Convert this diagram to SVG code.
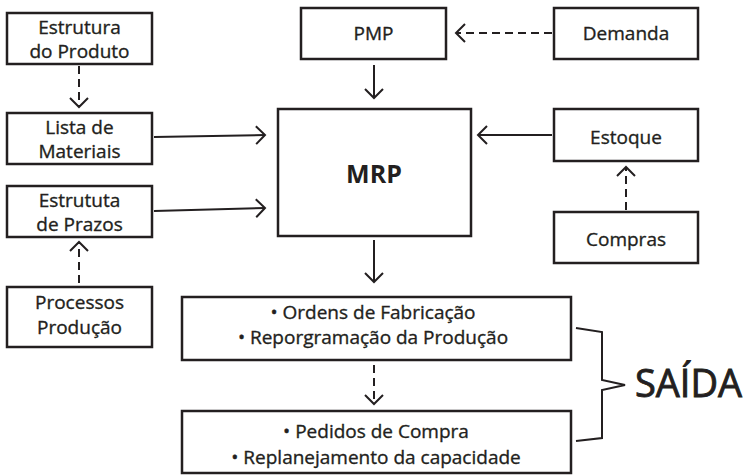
<svg xmlns="http://www.w3.org/2000/svg" width="743" height="475" viewBox="0 0 743 475">
<style>
.box{fill:#fff;stroke:#231f20;stroke-width:2.5}
.t{font-family:"Open Sans","Liberation Sans",sans-serif;font-size:19px;fill:#231f20;stroke:#231f20;stroke-width:0.35;text-anchor:middle}
.c{fill:none;stroke:#231f20;stroke-width:2}
.d{stroke-dasharray:8 5}
</style>
<defs>
<marker id="ah" viewBox="-11 -11 13 22" refX="0" refY="0" markerWidth="13" markerHeight="22" markerUnits="userSpaceOnUse" orient="auto">
<path d="M-9,-9 L0,0 L-9,9" fill="none" stroke="#231f20" stroke-width="2"/>
</marker>
</defs>
<rect width="743" height="475" fill="#fff"/>
<g id="connectors">
<line class="c d" x1="79" y1="66" x2="79" y2="107" marker-end="url(#ah)"/>
<line class="c" x1="154" y1="137" x2="265" y2="135" marker-end="url(#ah)"/>
<line class="c" x1="154" y1="211" x2="265" y2="208" marker-end="url(#ah)"/>
<line class="c d" x1="79" y1="283" x2="79" y2="242" marker-end="url(#ah)"/>
<line class="c d" x1="552" y1="33" x2="456" y2="33" marker-end="url(#ah)"/>
<line class="c" x1="374" y1="65" x2="374" y2="98" marker-end="url(#ah)"/>
<line class="c" x1="552" y1="135" x2="478" y2="135" marker-end="url(#ah)"/>
<line class="c d" x1="626" y1="210" x2="626" y2="167" marker-end="url(#ah)"/>
<line class="c" x1="374" y1="240" x2="374" y2="282" marker-end="url(#ah)"/>
<line class="c d" x1="374" y1="365" x2="374" y2="404" marker-end="url(#ah)"/>
<polyline class="c" points="576,328 602,332 602,380 625,385 602,390 602,438 576,441"/>
</g>
<g id="estrutura"><rect class="box" x="7" y="13" width="145" height="51"/><text class="t" x="79.5" y="34">Estrutura</text><text class="t" x="79.5" y="58">do Produto</text></g>
<g id="lista"><rect class="box" x="7" y="113" width="145" height="51"/><text class="t" x="79.5" y="134">Lista de</text><text class="t" x="79.5" y="158">Materiais</text></g>
<g id="prazos"><rect class="box" x="7" y="186" width="145" height="51"/><text class="t" x="79.5" y="207">Estrututa</text><text class="t" x="79.5" y="231">de Prazos</text></g>
<g id="processos"><rect class="box" x="7" y="287" width="145" height="60"/><text class="t" x="79.5" y="309">Processos</text><text class="t" x="79.5" y="334">Produção</text></g>
<g id="pmp"><rect class="box" x="301" y="8" width="145" height="51"/><text class="t" x="373.5" y="40">PMP</text></g>
<g id="demanda"><rect class="box" x="554" y="8" width="144" height="51"/><text class="t" x="626" y="40">Demanda</text></g>
<g id="mrp"><rect class="box" x="278" y="109" width="193" height="127"/><text class="t" x="374" y="183" style="font-size:25px;font-weight:700;stroke:none">MRP</text></g>
<g id="estoque"><rect class="box" x="554" y="109" width="144" height="52"/><text class="t" x="626" y="144">Estoque</text></g>
<g id="compras"><rect class="box" x="554" y="212" width="144" height="51"/><text class="t" x="626" y="246">Compras</text></g>
<g id="ordens"><rect class="box" x="182" y="297" width="389" height="63"/><text class="t" x="373" y="319">• Ordens de Fabricação</text><text class="t" x="373" y="344">• Reporgramação da Produção</text></g>
<g id="pedidos"><rect class="box" x="182" y="411" width="389" height="62"/><text class="t" x="376" y="438">• Pedidos de Compra</text><text class="t" x="376" y="464">• Replanejamento da capacidade</text></g>
<g id="saida"><text x="635" y="397" style="font-family:'Open Sans','Liberation Sans',sans-serif;font-size:38px;fill:#231f20;stroke:#231f20;stroke-width:0.9">SAÍDA</text></g>
</svg>
